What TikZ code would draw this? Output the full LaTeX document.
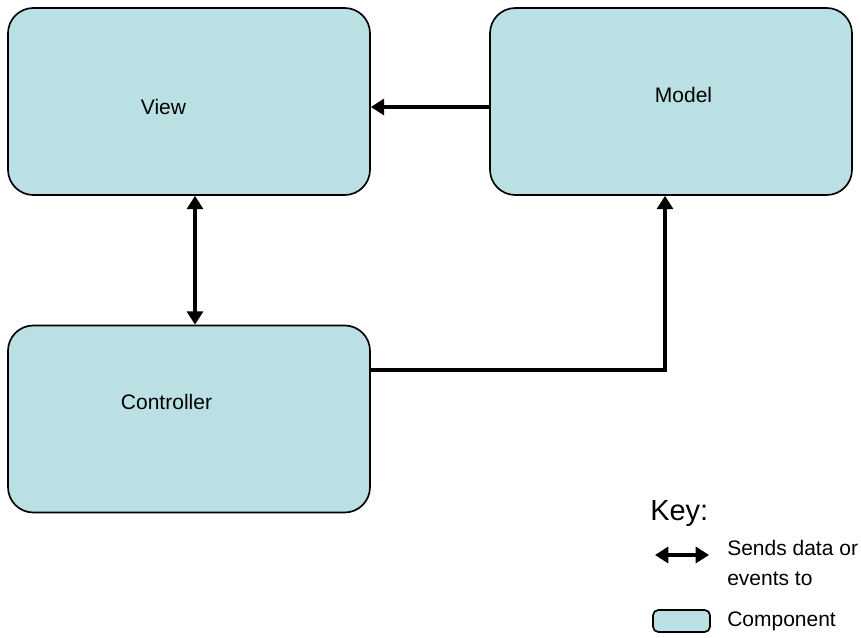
\documentclass[tikz,border=0pt]{standalone}
\usepackage{fontspec}
\setmainfont{Liberation Sans}
\usetikzlibrary{arrows.meta}
\definecolor{compfill}{RGB}{186,224,227}
\tikzset{
  comp/.style={draw=black, line width=1.25pt, fill=compfill, rounded corners=19pt, inner sep=0pt},
  lbl/.style={inner sep=0pt, font=\fontsize{15.75pt}{22.5pt}\selectfont},
  conn/.style={line width=2.9pt, draw=black},
  tip/.style={-{Triangle[length=10pt,width=12pt]}},
  tips/.style={{Triangle[length=10pt,width=12pt]}-{Triangle[length=10pt,width=12pt]}},
}
\begin{document}
\begin{tikzpicture}[x=0.75pt,y=-0.75pt]
\useasboundingbox (0,0) rectangle (861,638);
% components
\node[comp, minimum width=362*0.75pt, minimum height=187*0.75pt] (view) at (189,101.5) {};
\node[comp, minimum width=362*0.75pt, minimum height=187*0.75pt] (model) at (671,101.5) {};
\node[comp, minimum width=362*0.75pt, minimum height=187*0.75pt] (ctrl) at (189,419) {};
\node[lbl, anchor=base] (viewt) at (163.5,115) {View};
\node[lbl, anchor=base] (modelt) at (683.5,103) {Model};
\node[lbl, anchor=base] (ctrlt) at (166.5,409) {Controller};
% connectors
\coordinate (mv) at (430,107);
\draw[conn, tip] (model.west |- mv) -- (view.east |- mv);
\coordinate (vc) at (195,260);
\draw[conn, tips] (view.south -| vc) -- (ctrl.north -| vc);
\coordinate (bend) at (665,370);
\draw[conn, tip] (ctrl.east |- bend) -- (bend) -- (model.south -| bend);
% key
\node[inner sep=0pt, anchor=base west, font=\fontsize{21.75pt}{26pt}\selectfont] (keyt) at (650,520) {Key:};
\coordinate (ka) at (655,555);
\coordinate (kb) at (709,555);
\draw[conn, tips] (ka) -- (kb);
\node[lbl, anchor=base west, align=left] (sendt) at (727,585) {Sends data or\\events to};
\node[draw=black, line width=1.25pt, fill=compfill, rounded corners=4pt, minimum width=57*0.75pt, minimum height=22*0.75pt, inner sep=0pt] (keybox) at (681.5,621) {};
\node[lbl, anchor=base west] (compt) at (727,626) {Component};
\end{tikzpicture}
\end{document}
